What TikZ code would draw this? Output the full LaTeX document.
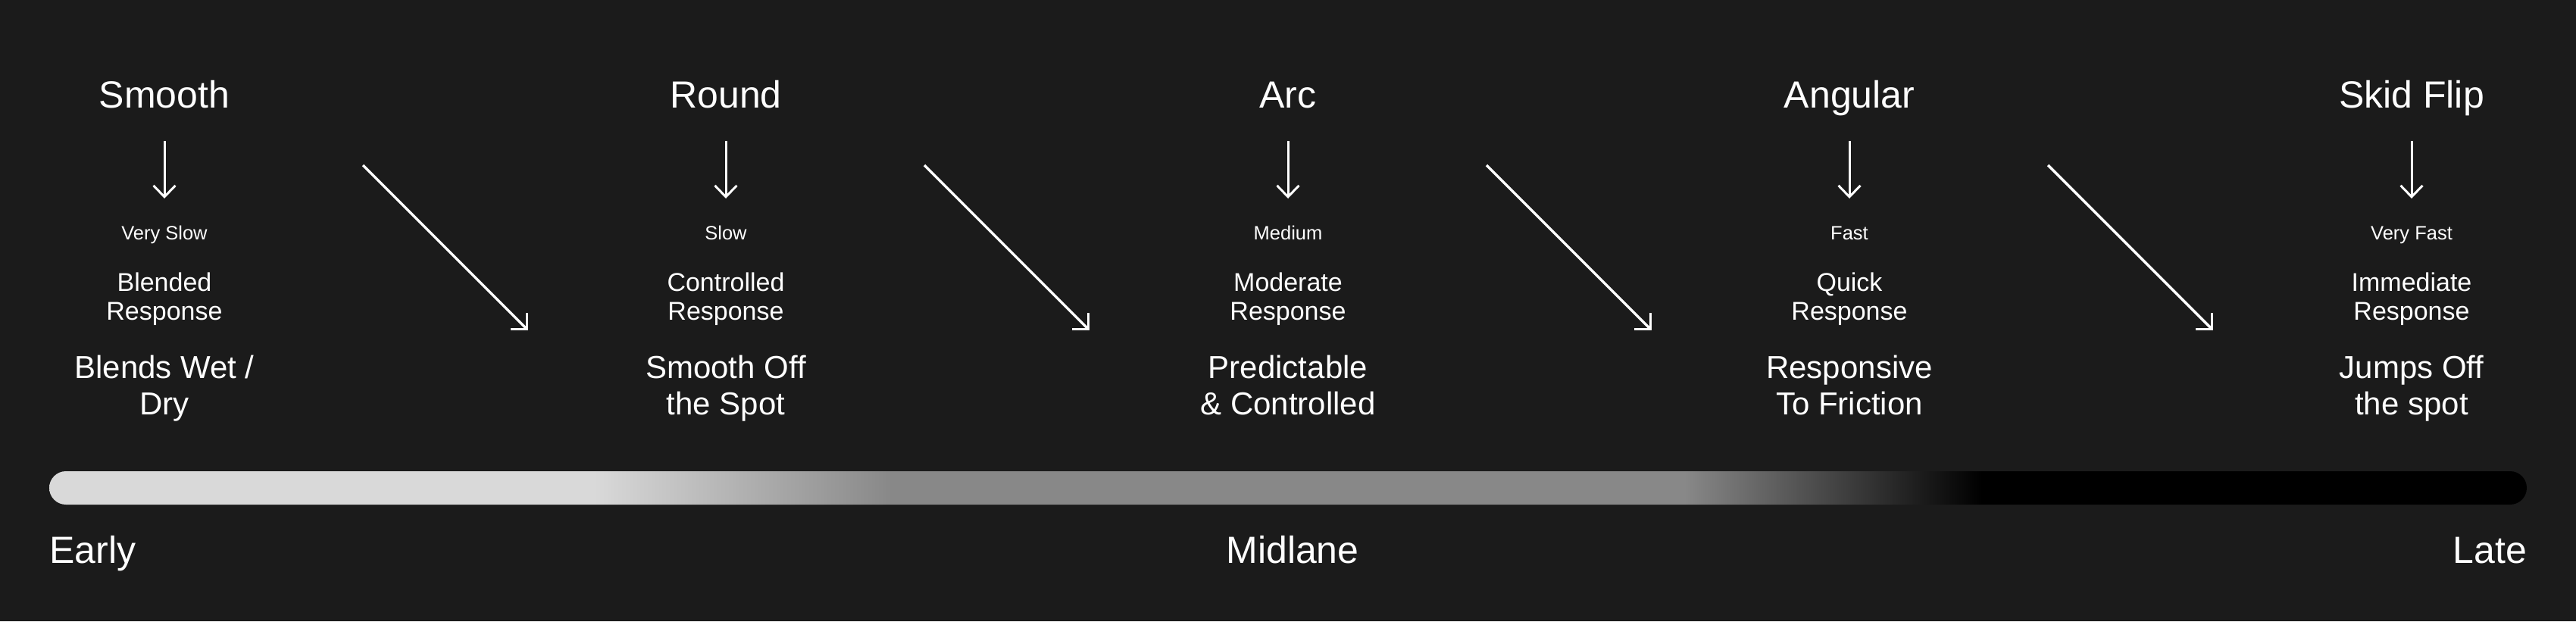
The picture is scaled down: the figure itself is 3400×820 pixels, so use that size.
\documentclass[tikz,border=0pt]{standalone}
\usepackage{fontspec}
\setmainfont{Liberation Sans}
\usetikzlibrary{arrows.meta}
\definecolor{bg}{HTML}{1B1B1B}
\definecolor{barlight}{HTML}{D9D9D9}
\definecolor{bargray}{HTML}{888888}
\pgfdeclarehorizontalshading{barshade}{100bp}{color(0bp)=(barlight); color(36bp)=(barlight); color(42bp)=(bargray); color(58bp)=(bargray); color(64bp)=(black); color(100bp)=(black)}
\tikzset{
  lbl/.style={text=white, inner sep=0pt, anchor=base},
  title/.style={lbl, font=\fontsize{50}{60}\selectfont},
  speed/.style={lbl, font=\fontsize{25.5}{30}\selectfont},
  resp/.style={lbl, align=center, font=\fontsize{34}{38}\selectfont},
  desc/.style={lbl, align=center, font=\fontsize{42}{48}\selectfont},
  axislbl/.style={lbl, font=\fontsize{50}{60}\selectfont},
  varrow/.style={draw=white, line width=3pt, -{Straight Barb[length=15pt,width=29pt]}},
  darrow/.style={draw=white, line width=3.5pt, -{Straight Barb[length=15pt,width=30pt]}},
}
\begin{document}
\begin{tikzpicture}[x=1pt,y=-1pt]
\fill[bg] (0,0) rectangle (3400,820);
\useasboundingbox (0,0) rectangle (3400,820);

% column 1
\node[title] (t1) at (217,142) {Smooth};
\node[speed] (s1) at (217,316) {Very Slow};
\node[resp]  (r1) at (217,422) {Blended\\Response};
\node[desc]  (d1) at (217,547) {Blends Wet /\\Dry};
% column 2
\node[title] (t2) at (958,142) {Round};
\node[speed] (s2) at (958,316) {Slow};
\node[resp]  (r2) at (958,422) {Controlled\\Response};
\node[desc]  (d2) at (958,547) {Smooth Off\\the Spot};
% column 3
\node[title] (t3) at (1700,142) {Arc};
\node[speed] (s3) at (1700,316) {Medium};
\node[resp]  (r3) at (1700,422) {Moderate\\Response};
\node[desc]  (d3) at (1700,547) {Predictable\\\& Controlled};
% column 4
\node[title] (t4) at (2441,142) {Angular};
\node[speed] (s4) at (2441,316) {Fast};
\node[resp]  (r4) at (2441,422) {Quick\\Response};
\node[desc]  (d4) at (2441,547) {Responsive\\To Friction};
% column 5
\node[title] (t5) at (3183,142) {Skid Flip};
\node[speed] (s5) at (3183,316) {Very Fast};
\node[resp]  (r5) at (3183,422) {Immediate\\Response};
\node[desc]  (d5) at (3183,547) {Jumps Off\\the spot};

% vertical arrows
\foreach \i/\x in {1/217,2/958,3/1700,4/2441,5/3183}{
  \coordinate (va\i) at (\x,186);
  \coordinate (vb\i) at (\x,262);
  \draw[varrow] (va\i) -- (vb\i);
}
% diagonal arrows
\foreach \i/\x in {1/217,2/958,3/1700,4/2441}{
  \coordinate (da\i) at (\x+262,218);
  \coordinate (db\i) at (\x+480,436);
  \draw[darrow] (da\i) -- (db\i);
}

% gradient bar
\shade[shading=barshade, rounded corners=22pt] (65,622) rectangle (3335,666);

% axis labels
\node[axislbl, anchor=base west] (early) at (65,743) {Early};
\node[axislbl] (mid) at (1706,743) {Midlane};
\node[axislbl, anchor=base east] (late) at (3335,743) {Late};
\end{tikzpicture}
\end{document}
